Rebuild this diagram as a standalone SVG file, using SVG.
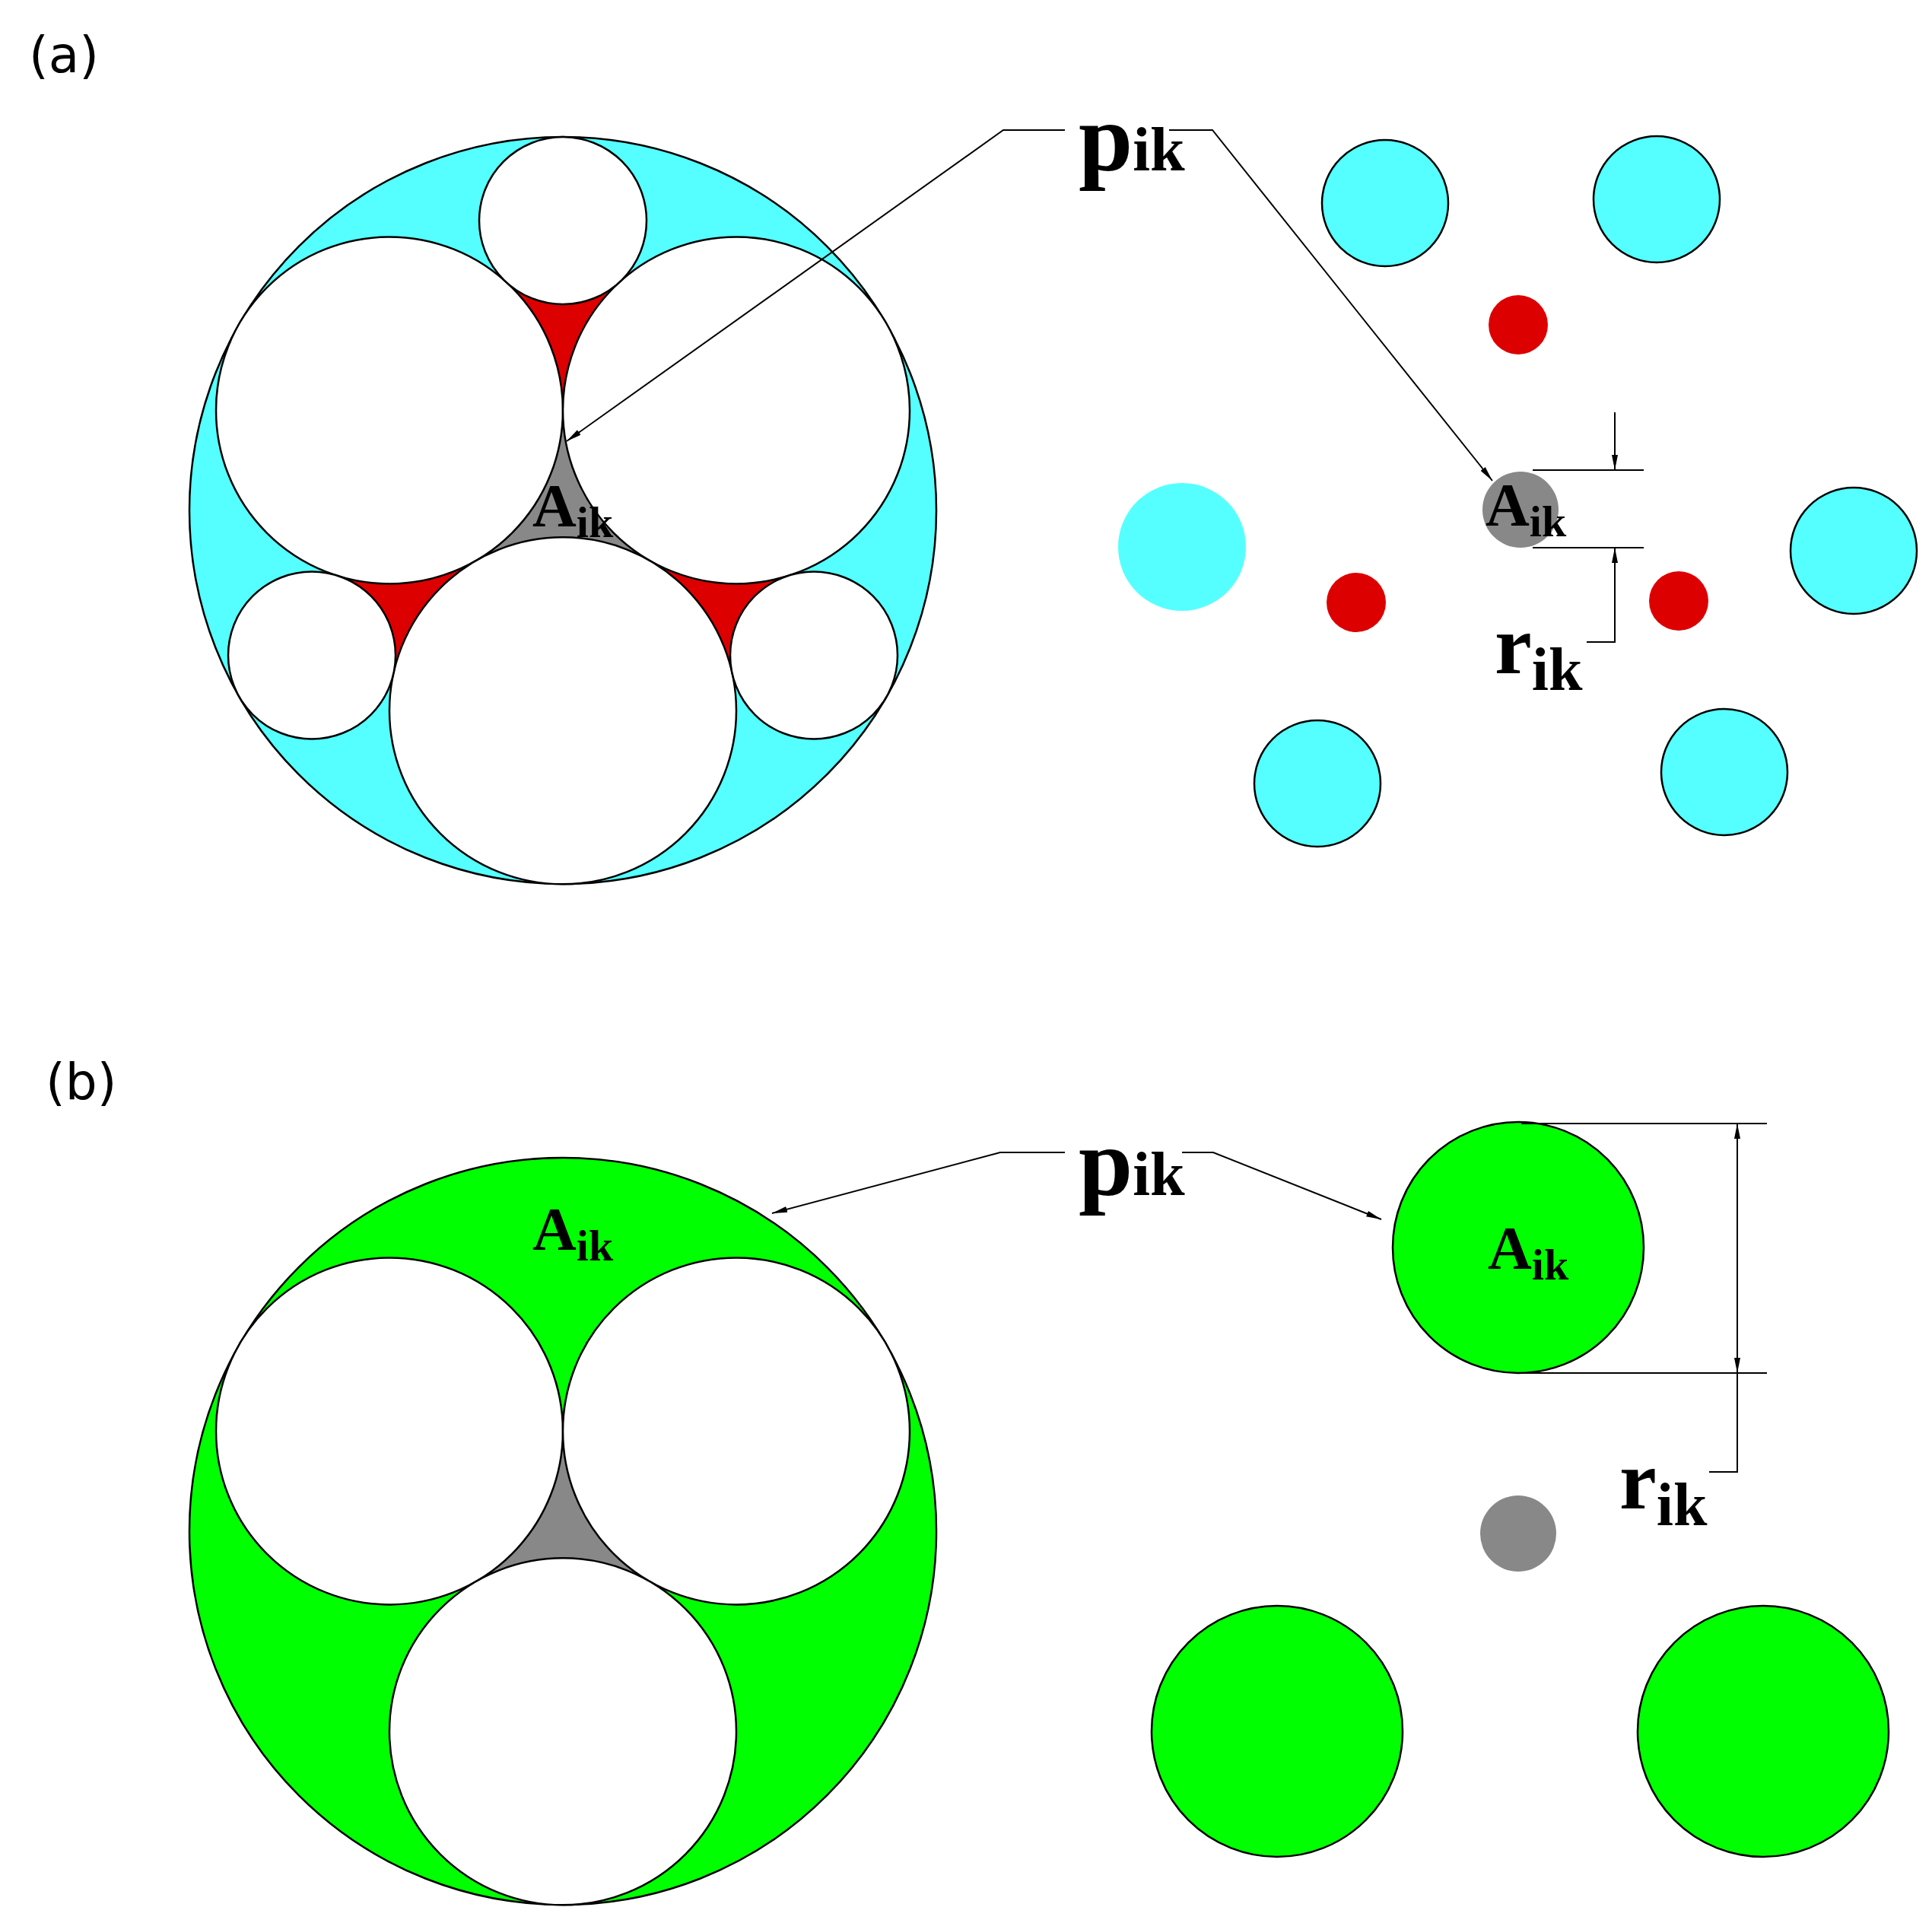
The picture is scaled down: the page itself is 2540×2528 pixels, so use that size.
<svg xmlns="http://www.w3.org/2000/svg" width="2540" height="2528" viewBox="0 0 2540 2528">
<defs>
<style>
.w{fill:#fff;stroke:#000;stroke-width:2.5}
.c{fill:#55ffff;stroke:#000;stroke-width:2.5}
.g{fill:#00ff00;stroke:#000;stroke-width:2.5}
.red{fill:#dd0000}
.gr{fill:#888}
.ln{fill:none;stroke:#000;stroke-width:2}
.t{font-family:"Liberation Serif",serif;fill:#000;font-weight:bold}
.lab{font-family:"DejaVu Sans",sans-serif;font-size:66px;fill:#000}
</style>
<marker id="ar" viewBox="0 0 20 8" refX="20" refY="4" markerWidth="20" markerHeight="8" markerUnits="userSpaceOnUse" orient="auto"><path d="M0,0 L20,4 L0,8 Z" fill="#000"/></marker>
</defs>
<text class="lab" x="38" y="95">(a)</text>
<text class="lab" x="60" y="1445">(b)</text>
<g id="panel-a-big">
<circle class="c" cx="740" cy="671" r="491"/>
<polygon class="red" points="665.8,371.1 814.2,371.1 740,539.4"/>
<polygon class="red" points="443.2,756.7 517.4,885.2 626,736.85"/>
<polygon class="red" points="1036.8,756.7 962.6,885.2 854,736.85"/>
<polygon class="gr" points="740,539.4 626,736.85 854,736.85"/>
<circle class="w" cx="512" cy="539.4" r="228"/>
<circle class="w" cx="968" cy="539.4" r="228"/>
<circle class="w" cx="740" cy="934.3" r="228"/>
<circle class="w" cx="740" cy="290" r="110"/>
<circle class="w" cx="410" cy="861.5" r="110"/>
<circle class="w" cx="1070" cy="861.5" r="110"/>
<text class="t" x="700" y="692" font-size="80">A<tspan font-size="58" dy="14">ik</tspan></text>
</g>
<g id="panel-a-right">
<circle class="c" cx="1821" cy="267" r="83"/>
<circle class="c" cx="2178" cy="262" r="83"/>
<circle cx="1554" cy="719" r="84" fill="#55ffff"/>
<circle class="c" cx="2437" cy="724" r="83"/>
<circle class="c" cx="1732" cy="1030" r="83"/>
<circle class="c" cx="2267" cy="1015" r="83"/>
<circle class="red" cx="1996" cy="427" r="39"/>
<circle class="red" cx="1783" cy="792" r="39"/>
<circle class="red" cx="2207" cy="790" r="39"/>
<circle class="gr" cx="1999" cy="670" r="50"/>
<text class="t" x="1953" y="691" font-size="80">A<tspan font-size="58" dy="14">ik</tspan></text>
</g>
<g id="panel-b-big">
<circle class="g" cx="740" cy="2013" r="491"/>
<polygon class="gr" points="740,1881.4 626,2078.85 854,2078.85"/>
<circle class="w" cx="512" cy="1881.4" r="228"/>
<circle class="w" cx="968" cy="1881.4" r="228"/>
<circle class="w" cx="740" cy="2276.3" r="228"/>
<text class="t" x="700" y="1643" font-size="80">A<tspan font-size="58" dy="14">ik</tspan></text>
</g>
<g id="panel-b-right">
<circle class="g" cx="1996" cy="1640" r="165"/>
<circle class="g" cx="1679" cy="2276" r="165"/>
<circle class="g" cx="2318" cy="2276" r="165"/>
<circle class="gr" cx="1996" cy="2016" r="50"/>
<text class="t" x="1956" y="1668" font-size="80">A<tspan font-size="58" dy="14">ik</tspan></text>
</g>
<g id="labels">
<text class="t" x="1418" y="224" font-size="128">p<tspan font-size="82">ik</tspan></text>
<text class="t" x="1965" y="885" font-size="110">r<tspan font-size="80" dy="22">ik</tspan></text>
<text class="t" x="1418" y="1571" font-size="128">p<tspan font-size="82">ik</tspan></text>
<text class="t" x="2129" y="1983" font-size="110">r<tspan font-size="80" dy="22">ik</tspan></text>
</g>
<g id="connectors">
<polyline class="ln" points="1400,171 1319,171 745,580" marker-end="url(#ar)"/>
<polyline class="ln" points="1537,171 1594,171 1962,632" marker-end="url(#ar)"/>
<line class="ln" x1="2015" y1="618" x2="2161" y2="618"/>
<line class="ln" x1="2015" y1="720" x2="2161" y2="720"/>
<line class="ln" x1="2123" y1="542" x2="2123" y2="618" marker-end="url(#ar)"/>
<polyline class="ln" points="2086,844 2123,844 2123,720" marker-end="url(#ar)"/>
<polyline class="ln" points="1400,1515 1315,1515 1015,1595" marker-end="url(#ar)"/>
<polyline class="ln" points="1554,1515 1595,1515 1816,1603" marker-end="url(#ar)"/>
<line class="ln" x1="2000" y1="1477" x2="2323" y2="1477"/>
<line class="ln" x1="2000" y1="1805" x2="2323" y2="1805"/>
<line class="ln" x1="2284" y1="1640" x2="2284" y2="1477" marker-end="url(#ar)"/>
<line class="ln" x1="2284" y1="1640" x2="2284" y2="1805" marker-end="url(#ar)"/>
<polyline class="ln" points="2284,1805 2284,1935 2247,1935"/>
</g>
</svg>
